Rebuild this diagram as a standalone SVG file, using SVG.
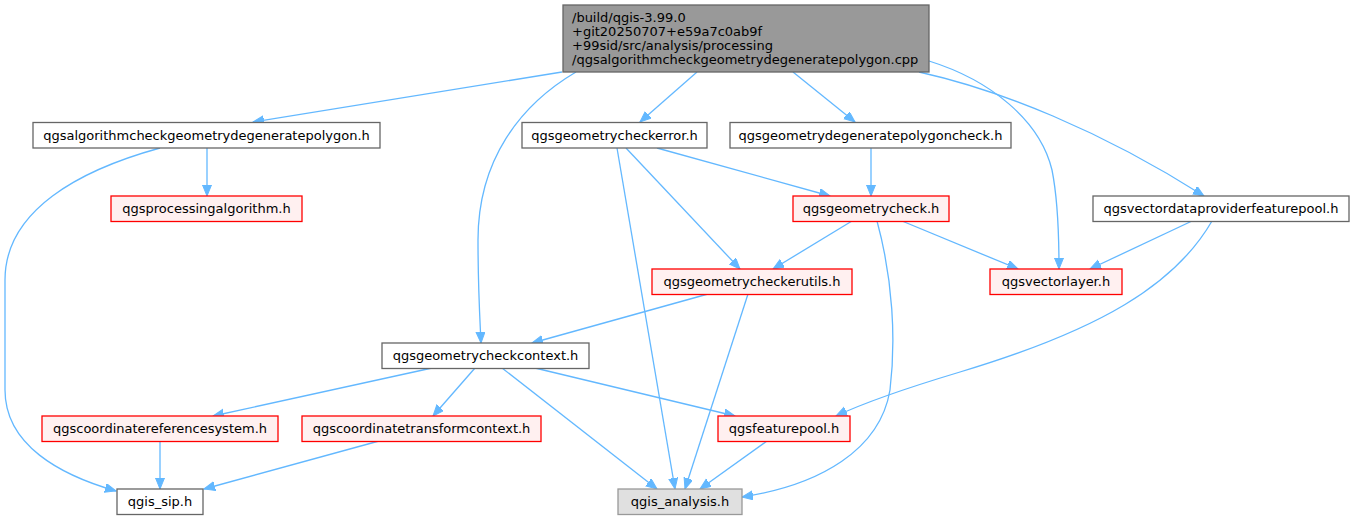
<svg xmlns="http://www.w3.org/2000/svg" width="1355" height="520" viewBox="0 0 1355 520">
<style>
text{font-family:"DejaVu Sans","Liberation Sans",sans-serif;font-size:13px;fill:#000}
.c{text-anchor:middle}
.w{fill:#fff;stroke:#666;stroke-width:1.3}
.r{fill:#fff0f0;stroke:#f00;stroke-width:1.3}
.g{fill:#999;stroke:#666;stroke-width:1.3}
.a{fill:#e0e0e0;stroke:#999;stroke-width:1.3}
.e path{fill:none;stroke:#63b8ff;stroke-width:1.3;marker-end:url(#ah)}
</style>
<defs>
<marker id="ah" markerUnits="userSpaceOnUse" markerWidth="12" markerHeight="10" refX="11" refY="4.5" orient="auto">
<path d="M0,0 L11,4.5 L0,9 Z" fill="#63b8ff" stroke="#63b8ff" stroke-width="1"/>
</marker>
</defs>
<rect width="1355" height="520" fill="#fff"/>
<g class="e" id="edges">
<path d="M562,72 L253,122"/>
<path d="M576,72 C520,105 478,160 478,240 C478,290 480,320 481,343"/>
<path d="M697,72 L640,122"/>
<path d="M793,72 L855,122"/>
<path d="M929,61 C990,80 1040,120 1052,170 C1058,200 1059,240 1059,269"/>
<path d="M919,72 C1000,90 1100,130 1204,196"/>
<path d="M207,148 L207,196"/>
<path d="M160,148 C80,170 5,210 5,280 L5,390 C5,445 60,475 116,491"/>
<path d="M617,148 L675,489"/>
<path d="M626,148 L740,269"/>
<path d="M657,148 L830,196"/>
<path d="M871,148 L871,196"/>
<path d="M852,221 L773,269"/>
<path d="M902,221 L1018,269"/>
<path d="M877,221 C893,280 896,340 890,390 C880,450 820,485 742,497"/>
<path d="M1192,221 L1090,269"/>
<path d="M1212,221 C1175,285 1100,330 960,372 C910,387 870,400 836,416"/>
<path d="M708,294 L532,343"/>
<path d="M748,294 L685,489"/>
<path d="M432,368 L213,416"/>
<path d="M475,368 L433,416"/>
<path d="M502,368 L657,489"/>
<path d="M535,368 L735,416"/>
<path d="M160,441 L160,489"/>
<path d="M379,441 L204,489"/>
<path d="M767,441 L700,489"/>
</g>
<g id="n_top"><rect class="g" x="563" y="5" width="366" height="67"/>
<text x="572" y="21.5">/build/qgis-3.99.0</text>
<text x="572" y="35.8">+git20250707+e59a7c0ab9f</text>
<text x="572" y="50.1">+99sid/src/analysis/processing</text>
<text x="572" y="64.4">/qgsalgorithmcheckgeometrydegeneratepolygon.cpp</text></g>
<g id="n_algo"><rect class="w" x="33" y="122.5" width="347" height="25.5"/><text class="c" x="206.5" y="139.8">qgsalgorithmcheckgeometrydegeneratepolygon.h</text></g>
<g id="n_proc"><rect class="r" x="111" y="196" width="191" height="25.5"/><text class="c" x="206.5" y="213.3">qgsprocessingalgorithm.h</text></g>
<g id="n_err"><rect class="w" x="522" y="122.5" width="185" height="25.5"/><text class="c" x="614.5" y="139.8">qgsgeometrycheckerror.h</text></g>
<g id="n_deg"><rect class="w" x="730" y="122.5" width="281" height="25.5"/><text class="c" x="870.5" y="139.8">qgsgeometrydegeneratepolygoncheck.h</text></g>
<g id="n_check"><rect class="r" x="793" y="196" width="156" height="25.5"/><text class="c" x="871" y="213.3">qgsgeometrycheck.h</text></g>
<g id="n_utils"><rect class="r" x="652" y="269" width="200" height="25.5"/><text class="c" x="752" y="286.3">qgsgeometrycheckerutils.h</text></g>
<g id="n_vl"><rect class="r" x="990" y="269" width="132" height="25.5"/><text class="c" x="1056" y="286.3">qgsvectorlayer.h</text></g>
<g id="n_vdp"><rect class="w" x="1093" y="196" width="256" height="25.5"/><text class="c" x="1221" y="213.3">qgsvectordataproviderfeaturepool.h</text></g>
<g id="n_ctx"><rect class="w" x="382" y="343" width="207" height="25.5"/><text class="c" x="485.5" y="360.3">qgsgeometrycheckcontext.h</text></g>
<g id="n_crs"><rect class="r" x="42" y="416" width="236" height="25.5"/><text class="c" x="160" y="433.3">qgscoordinatereferencesystem.h</text></g>
<g id="n_ctc"><rect class="r" x="302" y="416" width="239" height="25.5"/><text class="c" x="421.5" y="433.3">qgscoordinatetransformcontext.h</text></g>
<g id="n_fp"><rect class="r" x="718" y="416" width="132" height="25.5"/><text class="c" x="784" y="433.3">qgsfeaturepool.h</text></g>
<g id="n_sip"><rect class="w" x="117" y="489" width="86" height="25.5"/><text class="c" x="160" y="506.3">qgis_sip.h</text></g>
<g id="n_ana"><rect class="a" x="618" y="489" width="124" height="25.5"/><text class="c" x="680" y="506.3">qgis_analysis.h</text></g>
</svg>
